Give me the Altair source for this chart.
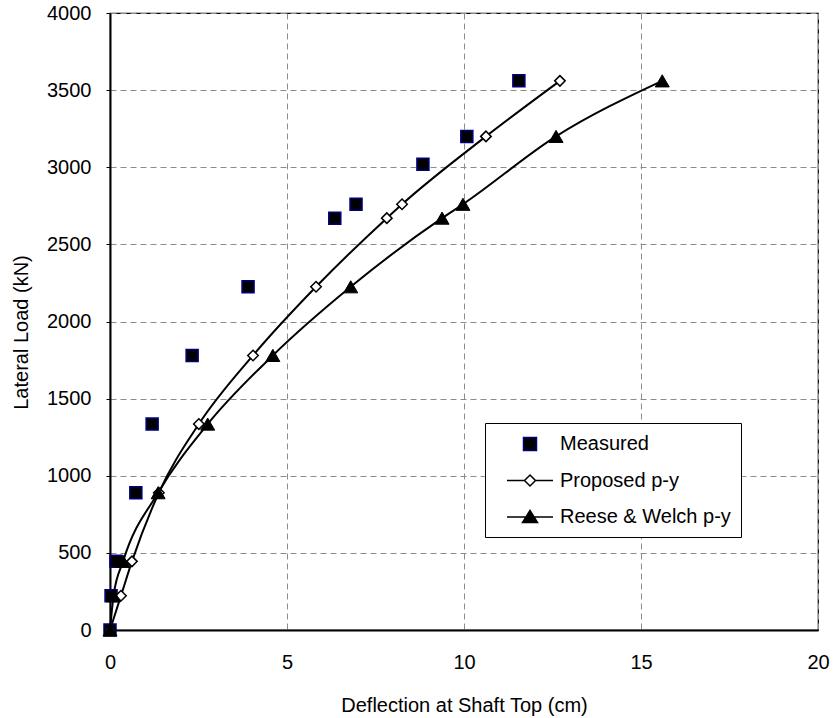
import altair as alt
import pandas as pd

series_names = ["Measured", "Proposed p-y", "Reese & Welch p-y"]

meas_x = [0, 0.03, 0.17, 0.73, 1.19, 2.32, 3.9, 6.35, 6.95, 8.84, 10.08, 11.55]
meas_y = [0, 222, 445, 890, 1335, 1780, 2225, 2670, 2760, 3020, 3200, 3560]

prop_x = [0, 0.31, 0.62, 1.38, 2.51, 4.04, 5.82, 7.82, 8.25, 10.62, 12.71]
prop_y = [0, 222, 445, 890, 1335, 1780, 2225, 2670, 2760, 3200, 3560]

rw_x = [0, 0.1, 0.37, 1.36, 2.76, 4.6, 6.8, 9.38, 9.97, 12.6, 15.6]
rw_y = [0, 222, 445, 890, 1335, 1780, 2225, 2670, 2760, 3200, 3560]

x_ticks = [0, 5, 10, 15, 20]
y_ticks = [0, 500, 1000, 1500, 2000, 2500, 3000, 3500, 4000]

rows = []
for name, xs, ys in zip(series_names, [meas_x, prop_x, rw_x], [meas_y, prop_y, rw_y]):
    for i, (a, b) in enumerate(zip(xs, ys)):
        rows.append({"series": name, "defl": a, "load": b, "order": i})
df = pd.DataFrame(rows)

FONT = "Liberation Sans"

x_enc = alt.X(
    "defl:Q",
    scale=alt.Scale(domain=[0, 20], nice=False, zero=False),
    axis=alt.Axis(
        values=x_ticks, title="Deflection at Shaft Top (cm)", format="d",
        titleY=81, titleBaseline="alphabetic", labelPadding=22, tickSize=0,
        labelFlush=False,
    ),
)
y_enc = alt.Y(
    "load:Q",
    scale=alt.Scale(domain=[0, 4000], nice=False),
    axis=alt.Axis(
        values=y_ticks, title="Lateral Load (kN)", format="d",
        titleX=-83, titleY=319, titleAngle=-90, titleBaseline="alphabetic",
        titleAlign="center", labelPadding=15, tickSize=4, labelFlush=False,
    ),
)

base = alt.Chart(df)

lines = base.transform_filter(alt.datum.series != "Measured").mark_line(
    interpolate="monotone", color="black", strokeWidth=2
).encode(x=x_enc, y=y_enc, detail="series:N", order="order:Q")

pts_meas = base.transform_filter(alt.datum.series == "Measured").mark_point(
    shape="square", size=144, filled=True, fill="black", stroke="#000080",
    strokeWidth=1.5, opacity=1
).encode(x=x_enc, y=y_enc)

pts_prop = base.transform_filter(alt.datum.series == "Proposed p-y").mark_point(
    shape="diamond", size=110, filled=True, fill="white", stroke="black",
    strokeWidth=1.5, opacity=1
).encode(x=x_enc, y=y_enc)

pts_rw = base.transform_filter(alt.datum.series == "Reese & Welch p-y").mark_point(
    shape="triangle-up", size=196, filled=True, fill="black", stroke="black",
    strokeWidth=1, opacity=1
).encode(x=x_enc, y=y_enc)

leg_paths = [
    "M1.75,-0.65H3.05V0.65H1.75Z",
    "M0.1,0H1.85M2.95,0H4.7M2.4,-0.55L2.95,0L2.4,0.55L1.85,0Z",
    "M0.1,0H4.7M2.4,-0.65L3.15,0.55L1.65,0.55Z",
]

def make_legend():
    return alt.Legend(
        title=None, orient="none", legendX=375, legendY=410, padding=10,
        strokeColor="black", fillColor="white", labelFontSize=20,
        labelFont=FONT, labelColor="black", labelOffset=43, rowPadding=15.5,
        labelLimit=400, symbolSize=400, symbolStrokeWidth=1.5, symbolOpacity=1,
    )

leg = base.mark_point(opacity=0, size=400).encode(
    x=x_enc, y=y_enc,
    shape=alt.Shape("series:N", scale=alt.Scale(domain=series_names, range=leg_paths),
                    legend=make_legend()),
    fill=alt.Fill("series:N", scale=alt.Scale(domain=series_names, range=["black", "white", "black"]),
                  legend=make_legend()),
    stroke=alt.Stroke("series:N", scale=alt.Scale(domain=series_names, range=["#000080", "black", "black"]),
                      legend=make_legend()),
)

chart = alt.layer(lines, pts_meas, pts_prop, pts_rw, leg).properties(
    width=708, height=617,
    autosize=alt.AutoSizeParams(type="none"),
    padding={"left": 110, "top": 13, "right": 17, "bottom": 88},
).configure_view(
    stroke="black", strokeWidth=1.2
).configure_axis(
    labelFont=FONT, titleFont=FONT, labelFontSize=20, titleFontSize=20,
    titleFontWeight="normal", labelColor="black", titleColor="black",
    domainColor="black", domainWidth=2, tickColor="black",
    gridColor="#8c8c8c", gridDash=[6, 4], gridWidth=1,
)

chart.save("out.html", embed_options={"renderer": "svg", "actions": False})
